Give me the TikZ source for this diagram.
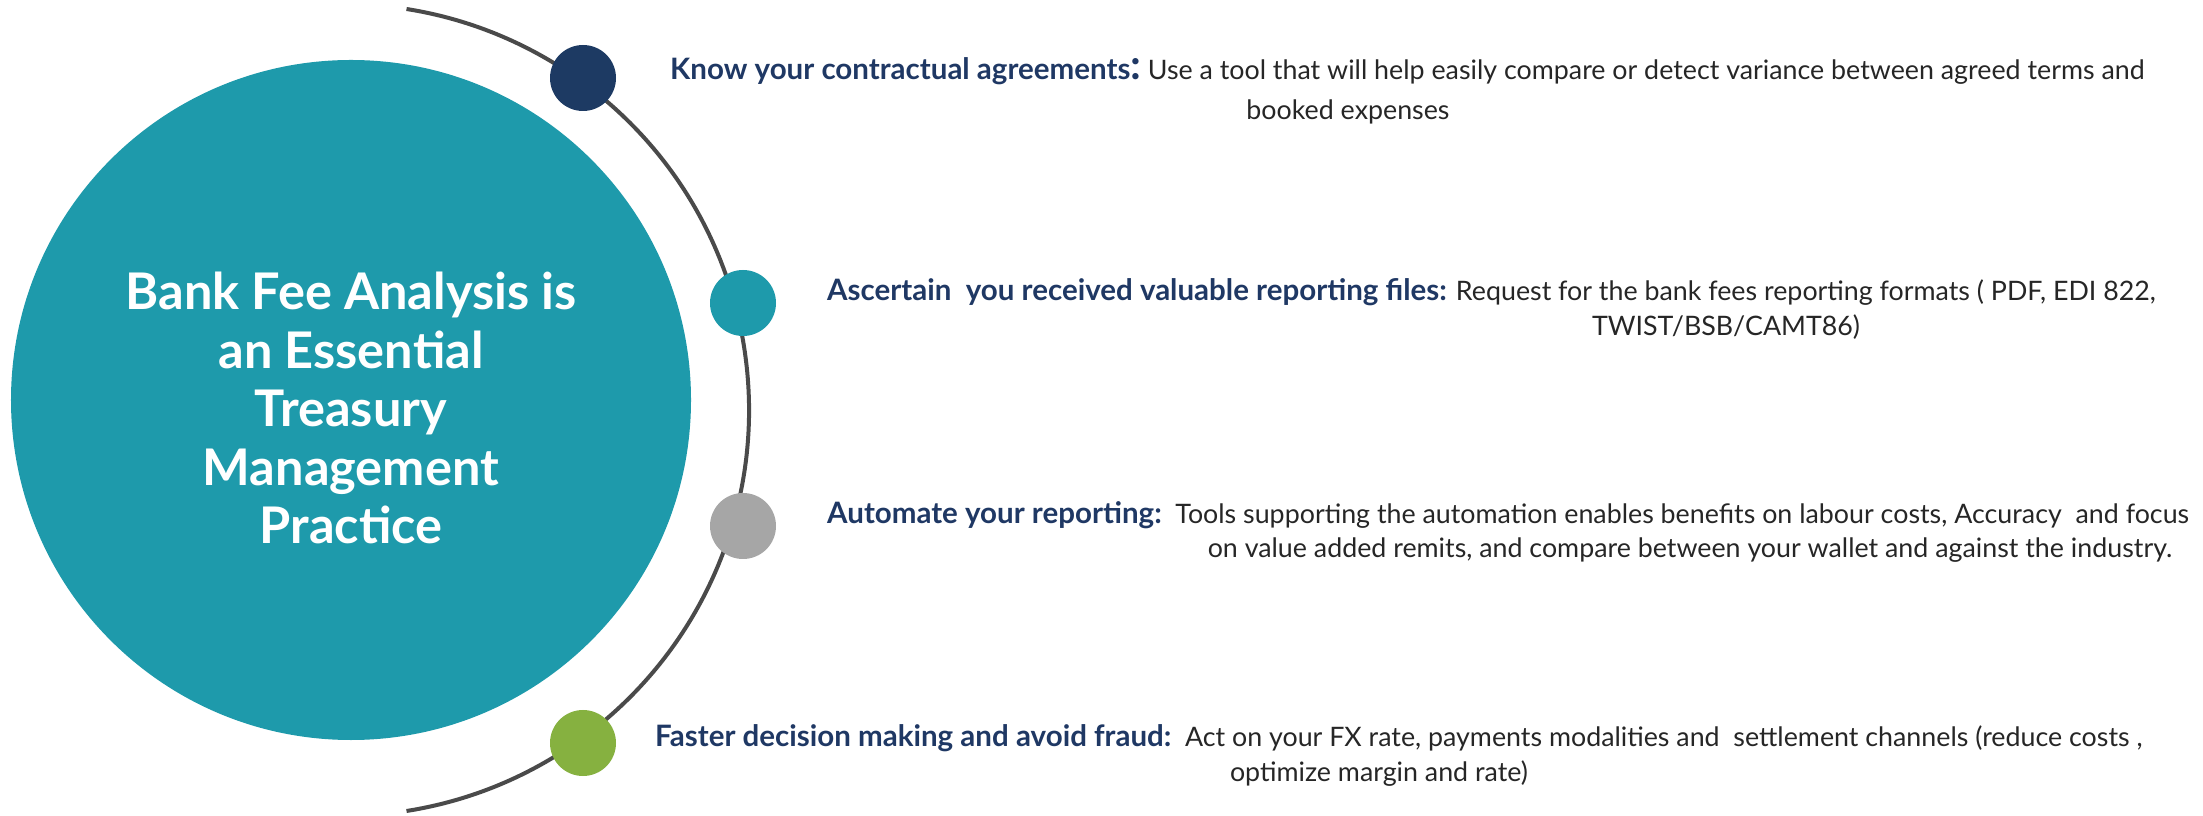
\documentclass[tikz,border=0pt]{standalone}
\usepackage{fontspec}
\setmainfont{Lato}
\usepackage{tikz}
\usetikzlibrary{positioning,calc}
\definecolor{feeteal}{HTML}{1E9AAB}
\definecolor{feenavy}{HTML}{1D3A63}
\definecolor{feegray}{HTML}{A6A6A6}
\definecolor{feegreen}{HTML}{86B140}
\definecolor{headblue}{HTML}{1F3864}
\definecolor{bodytext}{HTML}{262626}
\definecolor{arcline}{HTML}{4A4A4A}
\newcommand{\hd}[1]{{\color{headblue}\bfseries\fontsize{29.5bp}{32bp}\selectfont #1}}
\tikzset{
  hub/.style={circle, fill=feeteal, minimum size=680bp, inner sep=0pt},
  hubtext/.style={text=white, align=center, inner sep=0pt,
    font=\fontsize{50.5bp}{58.5bp}\selectfont\bfseries},
  dot/.style={circle, minimum size=66bp, inner sep=0pt},
  point/.style={anchor=base west, inner sep=0pt, text=bodytext, font=\fontsize{26.8bp}{30bp}\selectfont},
  cont/.style={point, anchor=base},
  rim/.style={draw=arcline, line width=4bp},
}

\begin{document}
\begin{tikzpicture}[x=1bp, y=1bp]
  \useasboundingbox (0,0) rectangle (2203,815);
  \node[hub] (hub) at (351,415) {};
  \node[hubtext] (title) at ([yshift=-8]hub.center) {Bank Fee Analysis is\\an Essential\\Treasury\\Management\\Practice};
  \coordinate (ctr) at (343,405);
  \draw[rim] ($(ctr)+(-81:406)$) arc[start angle=-81, end angle=81, radius=406];
  % markers on the rim
  \node[dot, fill=feenavy] (d1) at (583,737) {};
  \node[dot, fill=feeteal] (d2) at (743,512) {};
  \node[dot, fill=feegray] (d3) at (743,289) {};
  \node[dot, fill=feegreen] (d4) at (583,72) {};
  % the four points
  \node[point] (t1) at (670,735) {\hd{Know your contractual agreements}{\color{headblue}\bfseries\fontsize{42bp}{42bp}\selectfont:}\ Use a tool that will help easily compare or detect variance between agreed terms and};
  \node[cont] (t1b) at (1348,695) {booked expenses};
  \node[point] (t2) at (827,514) {\hd{Ascertain\ \ you received valuable reporting files:} Request for the bank fees reporting formats ( PDF, EDI 822,};
  \node[cont] (t2b) at (1726,479) {TWIST/BSB/CAMT86)};
  \node[point] (t3) at (827,291) {\hd{Automate your reporting:}\ \ Tools supporting the automation enables benefits on labour costs, Accuracy\ \ and focus};
  \node[cont] (t3b) at (1690,257) {on value added remits, and compare between your wallet and against the industry.};
  \node[point] (t4) at (655,69) {\hd{Faster decision making and avoid fraud:}\ \ Act on your FX rate, payments modalities and\ \ settlement channels (reduce costs ,};
  \node[cont] (t4b) at (1379,34) {optimize margin and rate)};
\end{tikzpicture}
\end{document}
